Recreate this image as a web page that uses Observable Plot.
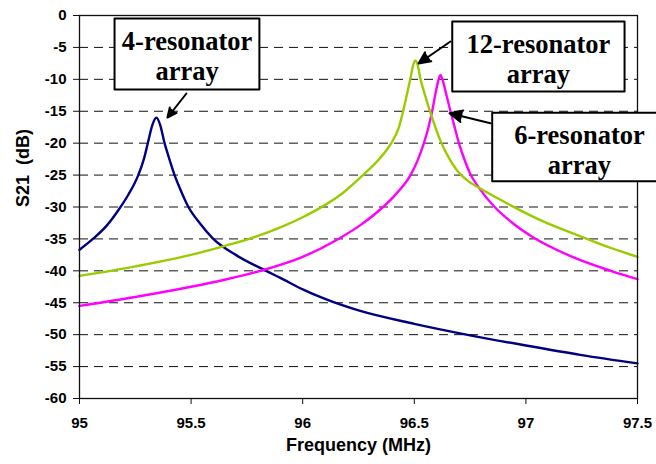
<!DOCTYPE html>
<html>
<head>
<meta charset="utf-8">
<script src="https://cdn.jsdelivr.net/npm/d3@7"></script>
<script src="https://cdn.jsdelivr.net/npm/@observablehq/plot@0.6"></script>
<style>
html, body { margin: 0; padding: 0; background: #fff; overflow: hidden; }
</style>
</head>
<body>
<div id="chart"></div>
<script>
// ---- Data ----
const seriesNames = ["4-resonator array", "6-resonator array", "12-resonator array"];
const seriesColors = ["#000080", "#FF00FF", "#99CC00"];

const blueFreq = [95.0, 95.06, 95.12, 95.18, 95.22, 95.261, 95.29, 95.306, 95.326, 95.344, 95.362, 95.381, 95.40, 95.426, 95.45, 95.485, 95.54, 95.597, 95.7, 95.836, 95.9, 96.0, 96.1, 96.25, 96.5, 96.75, 97.0, 97.25, 97.5];
const blueDb   = [-36.7, -35.0, -33.0, -30.2, -28.0, -25.2, -22.3, -20.0, -17.2, -16.0, -17.2, -20.0, -22.2, -25.0, -27.1, -29.8, -32.6, -34.9, -37.5, -40.0, -41.1, -42.9, -44.4, -46.2, -48.3, -50.1, -51.7, -53.2, -54.5];

const magFreq = [95.0, 95.25, 95.5, 95.65, 95.81, 96.0, 96.16, 96.26, 96.36, 96.42, 96.483, 96.515, 96.543, 96.565, 96.58, 96.595, 96.606, 96.617, 96.629, 96.645, 96.662, 96.68, 96.70, 96.725, 96.752, 96.79, 96.86, 96.94, 97.03, 97.2, 97.38, 97.5];
const magDb   = [-45.5, -44.1, -42.5, -41.4, -40.0, -37.8, -35.0, -32.8, -30.0, -27.9, -25.0, -22.7, -20.0, -17.3, -15.0, -12.2, -10.4, -9.3, -10.4, -12.6, -15.0, -17.4, -20.0, -22.6, -24.9, -27.0, -30.0, -32.5, -34.7, -37.7, -40.0, -41.3];

const grnFreq = [95.0, 95.25, 95.5, 95.64, 95.76, 95.9, 96.0, 96.08, 96.18, 96.27, 96.34, 96.393, 96.43, 96.45, 96.47, 96.483, 96.494, 96.505, 96.516, 96.528, 96.55, 96.573, 96.617, 96.65, 96.69, 96.74, 96.79, 96.93, 97.08, 97.23, 97.37, 97.5];
const grnDb   = [-40.8, -39.3, -37.5, -36.2, -35.0, -33.2, -31.6, -30.1, -27.8, -25.0, -22.6, -20.2, -17.6, -15.0, -11.9, -9.8, -7.9, -7.05, -7.9, -10.0, -12.7, -15.3, -19.6, -22.0, -24.2, -25.9, -27.0, -29.7, -32.3, -34.4, -36.3, -37.8];

const xTicks = [95, 95.5, 96, 96.5, 97, 97.5];
const yTicks = [0, -5, -10, -15, -20, -25, -30, -35, -40, -45, -50, -55, -60];
const gridTicks = [-5, -10, -15, -20, -25, -30, -35, -40, -45, -50, -55];

const xTitle = "Frequency (MHz)";
const yTitle = "S21\u00a0\u00a0(dB)";

// Annotation boxes (in data units: MHz / dB)
const annLabels = ["4-resonator\narray", "12-resonator\narray", "6-resonator\narray"];
const annBoxX1 = [95.157, 96.670, 96.849];
const annBoxX2 = [95.806, 97.442, 97.9];
const annBoxY1 = [-0.47, -0.94, -15.25];
const annBoxY2 = [-11.6, -11.9, -25.96];
const annClosed = [true, true, false];
const annTextX = [95.482, 97.056, 97.240];
const annTextY = [-6.3, -6.7, -21.0];
const annArrowX1 = [95.479, 96.662, 96.841];
const annArrowY1 = [-12.22, -4.07, -16.87];
const annArrowX2 = [95.394, 96.519, 96.658];
const annArrowY2 = [-15.98, -7.52, -15.31];

// ---- Build tables ----
const rows = [];
blueFreq.forEach((f, i) => rows.push({freq: f, db: blueDb[i], series: seriesNames[0]}));
magFreq.forEach((f, i) => rows.push({freq: f, db: magDb[i], series: seriesNames[1]}));
grnFreq.forEach((f, i) => rows.push({freq: f, db: grnDb[i], series: seriesNames[2]}));

const ann = annLabels.map((label, i) => ({
  label, bx1: annBoxX1[i], bx2: annBoxX2[i], by1: annBoxY1[i], by2: annBoxY2[i],
  tx: annTextX[i], ty: annTextY[i],
  ax1: annArrowX1[i], ay1: annArrowY1[i], ax2: annArrowX2[i], ay2: annArrowY2[i]
}));

// box outlines (the third box runs off the right edge, so it is left open there)
const outline = [];
ann.forEach((a, i) => {
  const pts = annClosed[i]
    ? [[a.bx2, a.by1], [a.bx1, a.by1], [a.bx1, a.by2], [a.bx2, a.by2], [a.bx2, a.by1], [a.bx1, a.by1]]
    : [[a.bx2, a.by1], [a.bx1, a.by1], [a.bx1, a.by2], [a.bx2, a.by2]];
  pts.forEach(([x, y]) => outline.push({x, y, box: i}));
});

const sans = "'Liberation Sans', Arial, sans-serif";
const serif = "'Liberation Serif', 'Times New Roman', serif";

const chart = Plot.plot({
  width: 656,
  height: 464,
  marginLeft: 79,
  marginRight: 19,
  marginTop: 15,
  marginBottom: 66,
  style: {fontFamily: sans, background: "white", color: "black"},
  x: {domain: [95, 97.5]},
  y: {domain: [-60, 0]},
  color: {domain: seriesNames, range: seriesColors},
  marks: [
    Plot.ruleY(gridTicks, {stroke: "#111", strokeDasharray: "9,6", strokeWidth: 1}),
    Plot.line(rows, {x: "freq", y: "db", z: "series", stroke: "series", strokeWidth: 2.4, curve: "monotone-x"}),
    Plot.frame({stroke: "#111", strokeWidth: 1.3}),
    Plot.axisX({ticks: xTicks, tickSize: 6, tickPadding: 13, tickFormat: d => String(d), fontSize: 15, fontWeight: "bold", label: null, stroke: "#111"}),
    Plot.axisY({ticks: yTicks, tickSize: 6, tickPadding: 7, tickFormat: d => String(d), fontSize: 15, fontWeight: "bold", label: null, stroke: "#111"}),
    Plot.rect(ann, {x1: "bx1", x2: "bx2", y1: "by1", y2: "by2", fill: "white"}),
    Plot.line(outline, {x: "x", y: "y", z: "box", stroke: "black", strokeWidth: 2, curve: "linear"}),
    Plot.arrow(ann, {x1: "ax1", y1: "ay1", x2: "ax2", y2: "ay2", stroke: "black", strokeWidth: 2, headLength: 15, headAngle: 50}),
    Plot.text(ann, {x: "tx", y: "ty", text: "label", fontFamily: serif, fontSize: 26.5, fontWeight: "bold", lineHeight: 1.12, fill: "black"}),
    Plot.text([xTitle], {frameAnchor: "bottom", dy: 52, fontSize: 18, fontWeight: "bold", fill: "black"}),
    Plot.text([yTitle], {frameAnchor: "left", rotate: -90, dx: -56, fontSize: 18, fontWeight: "bold", fill: "black"})
  ]
});

// fill arrow heads
d3.select(chart).selectAll("g[aria-label='arrow'] path").attr("fill", "black");

document.getElementById("chart").appendChild(chart);
</script>
</body>
</html>
